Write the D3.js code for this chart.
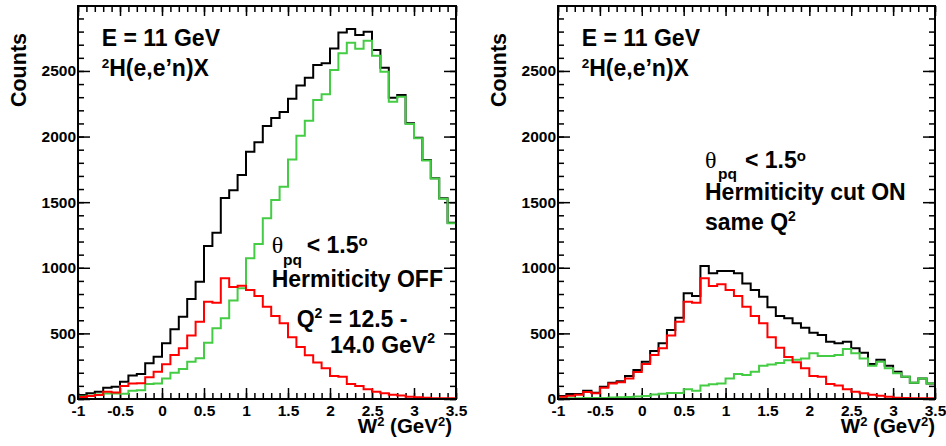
<!DOCTYPE html>
<html>
<head>
<meta charset="utf-8">
<script src="https://cdn.jsdelivr.net/npm/d3@7"></script>
<style>
    body { margin: 0; background: #fff; }
    svg text { font-family: "Liberation Sans", Arial, Helvetica, sans-serif; font-weight: bold; fill: #000; }
    .tick line { stroke: #000; stroke-width: 1.5; }
    .domain { display: none; }
</style>
</head>
<body>
<div id="chart"></div>
<script>

// binning of the W^2 histograms
var binStart = -1.0;
var binWidth = 0.1;

var xTickValues = [-1, -0.5, 0, 0.5, 1, 1.5, 2, 2.5, 3, 3.5];
var xTickLabels = ["-1", "-0.5", "0", "0.5", "1", "1.5", "2", "2.5", "3", "3.5"];
var yTickValues = [0, 500, 1000, 1500, 2000, 2500];
var yTickLabels = ["0", "500", "1000", "1500", "2000", "2500"];

// left panel: Hermiticity OFF
var leftBlack = [30, 43, 56, 86, 94, 132, 180, 190, 272, 322,
    424, 531, 627, 762, 894, 1166, 1267, 1531, 1590, 1707,
    1885, 1956, 2080, 2141, 2187, 2288, 2390, 2448, 2545, 2558,
    2672, 2794, 2820, 2774, 2799, 2660, 2525, 2296, 2317, 2101,
    1991, 1821, 1682, 1529, 1343];

var leftGreen = [20, 25, 35, 42, 42, 40, 63, 67, 114, 118,
    157, 200, 228, 284, 310, 429, 539, 615, 750, 844,
    1072, 1181, 1377, 1516, 1618, 1826, 2007, 2121, 2278, 2322,
    2507, 2634, 2715, 2670, 2730, 2615, 2494, 2265, 2303, 2095,
    1987, 1818, 1680, 1527, 1340];

var leftRed = [15, 22, 30, 55, 50, 100, 118, 120, 165, 207,
    265, 335, 386, 483, 589, 742, 734, 920, 853, 864,
    831, 785, 703, 632, 577, 470, 397, 333, 278, 234,
    175, 170, 114, 100, 74, 56, 43, 33, 27, 18,
    13, 9, 6, 5, 5];

// right panel: Hermiticity cut ON
var rightBlack = [23, 38, 38, 63, 48, 94, 124, 135, 175, 221,
    284, 366, 424, 526, 620, 805, 785, 1013, 958, 975,
    975, 958, 881, 831, 780, 699, 632, 615, 577, 543,
    505, 488, 437, 424, 437, 386, 353, 267, 300, 254,
    208, 170, 124, 157, 118];

var rightGreen = [5, 5, 6, 8, 8, 8, 12, 14, 16, 20,
    22, 35, 40, 45, 45, 74, 63, 102, 112, 118,
    157, 190, 182, 208, 254, 262, 274, 295, 300, 308,
    348, 328, 328, 335, 381, 348, 308, 254, 284, 234,
    196, 170, 124, 157, 118];

var rightRed = [18, 25, 33, 53, 43, 86, 118, 127, 157, 206,
    267, 335, 386, 483, 589, 742, 734, 920, 861, 874,
    831, 785, 703, 632, 577, 470, 391, 320, 280, 234,
    175, 170, 114, 102, 74, 56, 43, 33, 25, 18,
    10, 8, 6, 5, 5];


var svg = d3.select("#chart").append("svg")
    .attr("width", 946)
    .attr("height", 446);

// text with super/subscripts, parts = [{text, shift, size}]
function richText(g, x, y, parts, size) {
    var t = g.append("text")
        .attr("x", x)
        .attr("y", y)
        .style("font-size", size + "px");
    var shift = 0;
    parts.forEach(function (p) {
        var s = p.shift || 0;
        t.append("tspan")
            .attr("dy", s - shift)
            .style("font-size", (p.size || size) + "px")
            .text(p.text);
        shift = s;
    });
    return t;
}


HistPanel = function (_svg, _opts) {
    this.svg = _svg;
    this.opts = _opts;
    this.initVis();
};

HistPanel.prototype.initVis = function () {

    var vis = this;
    var o = vis.opts;

    vis.top = 6;
    vis.bottom = 399;

    vis.x = d3.scaleLinear()
        .domain([-1, 3.5])
        .range([o.left, o.right]);

    vis.y = d3.scaleLinear()
        .domain([0, 2995])
        .range([vis.bottom, vis.top]);

    vis.g = vis.svg.append("g");

    var xMinor = d3.range(-1, 3.5001, 0.1);
    var yMinor = d3.range(0, 2901, 100);

    // bottom axis
    vis.g.append("g")
        .attr("transform", "translate(0," + vis.bottom + ")")
        .call(d3.axisBottom(vis.x).tickValues(xMinor).tickSize(-6).tickFormat(""));
    vis.g.append("g")
        .attr("transform", "translate(0," + vis.bottom + ")")
        .call(d3.axisBottom(vis.x).tickValues(xTickValues).tickSize(-11).tickPadding(6)
            .tickFormat(function (d, i) { return xTickLabels[i]; }))
        .selectAll("text").style("font-size", "15.5px");

    // top axis (ticks only)
    vis.g.append("g")
        .attr("transform", "translate(0," + vis.top + ")")
        .call(d3.axisTop(vis.x).tickValues(xMinor).tickSize(-6).tickFormat(""));
    vis.g.append("g")
        .attr("transform", "translate(0," + vis.top + ")")
        .call(d3.axisTop(vis.x).tickValues(xTickValues).tickSize(-10).tickFormat(""));

    // left axis
    vis.g.append("g")
        .attr("transform", "translate(" + o.left + ",0)")
        .call(d3.axisLeft(vis.y).tickValues(yMinor).tickSize(-6).tickFormat(""));
    vis.g.append("g")
        .attr("transform", "translate(" + o.left + ",0)")
        .call(d3.axisLeft(vis.y).tickValues(yTickValues).tickSize(-12).tickPadding(2)
            .tickFormat(function (d, i) { return yTickLabels[i]; }))
        .selectAll("text").style("font-size", "15.5px");

    // right axis (ticks only)
    vis.g.append("g")
        .attr("transform", "translate(" + o.right + ",0)")
        .call(d3.axisRight(vis.y).tickValues(yMinor).tickSize(-6).tickFormat(""));
    vis.g.append("g")
        .attr("transform", "translate(" + o.right + ",0)")
        .call(d3.axisRight(vis.y).tickValues(yTickValues).tickSize(-12).tickFormat(""));

    // histograms
    vis.line = d3.line()
        .x(function (d) { return vis.x(d.x); })
        .y(function (d) { return vis.y(d.y); })
        .curve(d3.curveStepAfter);

    o.series.forEach(function (s) {
        var pts = s.data.map(function (c, i) { return { x: binStart + i * binWidth, y: c }; });
        pts.push({ x: binStart + s.data.length * binWidth, y: s.data[s.data.length - 1] });
        vis.g.append("path")
            .attr("d", vis.line(pts))
            .attr("fill", "none")
            .attr("stroke", s.color)
            .attr("stroke-width", 2);
    });

    // frame
    vis.g.append("rect")
        .attr("x", o.left)
        .attr("y", vis.top)
        .attr("width", o.right - o.left)
        .attr("height", vis.bottom - vis.top)
        .attr("fill", "none")
        .attr("stroke", "#000")
        .attr("stroke-width", 2);

    // axis titles
    vis.g.append("text")
        .attr("transform", "translate(" + (o.left - 52.5) + ",33) rotate(-90)")
        .attr("text-anchor", "end")
        .style("font-size", "21.5px")
        .text("Counts");

    richText(vis.g, o.right - o.titleGap, 433, [
        { text: "W" }, { text: "2", shift: -7, size: 13 },
        { text: " (GeV", shift: 0 }, { text: "2", shift: -7, size: 13 },
        { text: ")", shift: 0 }
    ], 20.5).attr("text-anchor", "end");

    // reaction labels
    var lx = o.left + 23.7;
    richText(vis.g, lx, 45.7, [{ text: "E = 11 GeV" }], 23);
    richText(vis.g, lx, 76, [
        { text: "2", shift: -8, size: 13.5 }, { text: "H(e,e\u2019n)X", shift: 0 }
    ], 23);
};


var leftPanel = new HistPanel(svg, {
    left: 78, right: 456, titleGap: 4,
    series: [
        { data: leftBlack, color: "#000000" },
        { data: leftGreen, color: "#44cc44" },
        { data: leftRed, color: "#ff0000" }
    ]
});

var rightPanel = new HistPanel(svg, {
    left: 558, right: 935, titleGap: 0,
    series: [
        { data: rightBlack, color: "#000000" },
        { data: rightGreen, color: "#44cc44" },
        { data: rightRed, color: "#ff0000" }
    ]
});

// cut annotations
function thetaCut(g, x, y, subX, subY, ltX) {
    g.append("text")
        .attr("x", x).attr("y", y)
        .style("font-family", "'Liberation Serif', 'Times New Roman', serif")
        .style("font-weight", "normal")
        .style("font-size", "24px")
        .text("\u03b8");
    g.append("text")
        .attr("x", subX).attr("y", subY)
        .style("font-size", "15.5px")
        .text("pq");
    richText(g, ltX, y, [{ text: "< 1.5" }, { text: "o", shift: -7, size: 15 }], 23);
}

thetaCut(svg, 271.7, 253, 283, 265, 306.7);
richText(svg, 271.7, 286.7, [{ text: "Hermiticity OFF" }], 23);
richText(svg, 296.7, 326.7, [
    { text: "Q" }, { text: "2", shift: -9, size: 14 }, { text: " = 12.5 -", shift: 0 }
], 23);
richText(svg, 330, 352.7, [
    { text: "14.0 GeV" }, { text: "2", shift: -10, size: 14 }
], 23);

thetaCut(svg, 705, 168, 718, 179, 745);
richText(svg, 705, 200, [{ text: "Hermiticity cut ON" }], 23);
richText(svg, 705, 230, [
    { text: "same Q" }, { text: "2", shift: -9, size: 14 }
], 23);

</script>
</body>
</html>
